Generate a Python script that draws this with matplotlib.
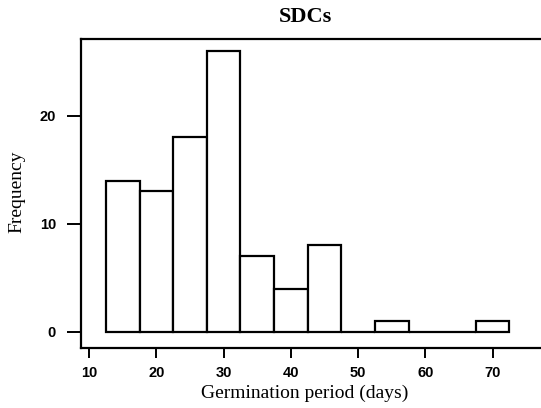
import numpy as np
import matplotlib
matplotlib.use("Agg")
import matplotlib.pyplot as plt

# histogram of germination periods, 5-day bins
bin_left = [12.5, 17.5, 22.5, 27.5, 32.5, 37.5, 42.5, 47.5, 52.5, 57.5, 62.5, 67.5]
counts = [14, 13, 18, 26, 7, 4, 8, 0, 1, 0, 0, 1]
bin_width = 5
x_ticks = [10, 20, 30, 40, 50, 60, 70]
y_ticks = [0, 10, 20]

fig = plt.figure(figsize=(5.41, 4.08), dpi=100)
ax = fig.add_axes([81 / 541, 60 / 408, 460 / 541, 309 / 408])

ax.bar(bin_left, counts, width=bin_width, align="edge",
       facecolor="white", edgecolor="black", linewidth=1.6)

ax.set_xlim(8.8, 77.2)
ax.set_ylim(-1.5, 27.1)
ax.set_xticks(x_ticks)
ax.set_yticks(y_ticks)

for side in ["left", "bottom", "top"]:
    ax.spines[side].set_linewidth(1.6)
ax.spines["right"].set_visible(False)

ax.tick_params(axis="y", direction="out", length=10, width=1.4, pad=8)
ax.tick_params(axis="x", direction="out", length=7, width=1.4, pad=6)
for lab in ax.get_xticklabels() + ax.get_yticklabels():
    lab.set_fontweight("bold")
    lab.set_fontsize(10.5)
    lab.set_family("Liberation Sans")

fig.text(305 / 541, 1 - 17 / 408, "SDCs", ha="center", va="center",
         family="Liberation Serif", fontsize=16, fontweight="bold")
fig.text(305 / 541, 1 - 393 / 408, "Germination period (days)", ha="center",
         va="center", family="Liberation Serif", fontsize=14)
fig.text(17 / 541, 1 - 192 / 408, "Frequency", ha="center", va="center",
         rotation=90, family="Liberation Serif", fontsize=14)

fig.savefig("out.png", dpi=100)
